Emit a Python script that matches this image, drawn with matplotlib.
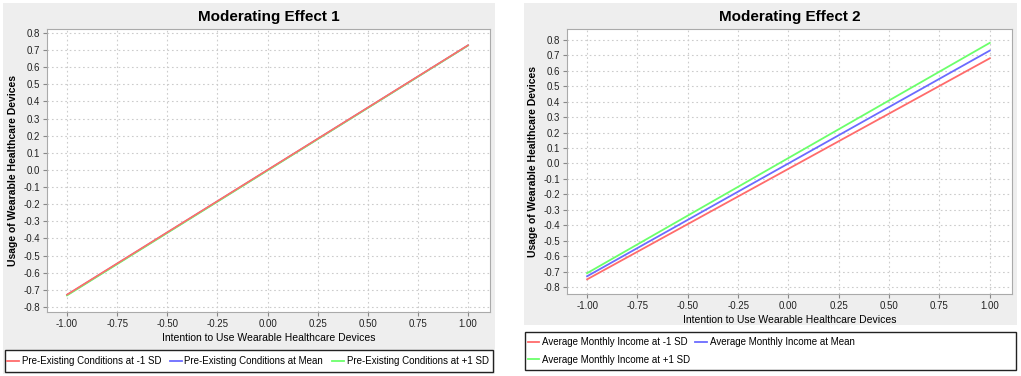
import numpy as np
import matplotlib.pyplot as plt
from matplotlib.patches import Rectangle
from matplotlib.lines import Line2D

plt.rcParams['font.family'] = ['Liberation Sans', 'DejaVu Sans']

# data: slopes read at x = -1 and x = 1
x_vals = [-1.0, 1.0]
eff1_low = [-0.728, 0.728]
eff1_mean = [-0.730, 0.727]
eff1_high = [-0.733, 0.726]
eff2_low = [-0.75, 0.68]
eff2_mean = [-0.73, 0.73]
eff2_high = [-0.71, 0.78]

labels1 = ['Pre-Existing Conditions at -1 SD', 'Pre-Existing Conditions at Mean',
           'Pre-Existing Conditions at +1 SD']
labels2 = ['Average Monthly Income at -1 SD', 'Average Monthly Income at Mean',
           'Average Monthly Income at +1 SD']

xticks = [-1.0, -0.75, -0.5, -0.25, 0.0, 0.25, 0.5, 0.75, 1.0]
yticks = [-0.8, -0.7, -0.6, -0.5, -0.4, -0.3, -0.2, -0.1, 0.0,
          0.1, 0.2, 0.3, 0.4, 0.5, 0.6, 0.7, 0.8]

RED, BLUE, GREEN = '#ff6b6b', '#6b6bff', '#6bff6b'
BG = '#eeeeee'

fig = plt.figure(figsize=(10.21, 3.76), dpi=100)

# panel backgrounds
fig.patches.append(Rectangle((0.003, 0.005), 0.482, 0.987, transform=fig.transFigure,
                             facecolor=BG, edgecolor='none', zorder=-2))
fig.patches.append(Rectangle((0.513, 0.136), 0.483, 0.856, transform=fig.transFigure,
                             facecolor=BG, edgecolor='none', zorder=-2))

ax1 = fig.add_axes([0.046, 0.170, 0.434, 0.753])
ax2 = fig.add_axes([0.5553, 0.218, 0.4358, 0.705])


def style(ax, title, ylim):
    ax.set_facecolor('white')
    ax.set_xlim(-1.1, 1.11)
    ax.set_ylim(*ylim)
    ax.set_xticks(xticks)
    ax.set_xticklabels([f'{v:.2f}' for v in xticks])
    ax.set_yticks(yticks)
    ax.set_yticklabels([f'{v:.1f}' for v in yticks])
    ax.tick_params(labelsize=7, length=3, color='#888888', pad=2, labelcolor='#222222')
    ax.grid(True, linestyle=(0, (1.5, 2.5)), color='#cccccc', linewidth=0.8)
    for s in ax.spines.values():
        s.set_color('#aaaaaa')
        s.set_linewidth(0.8)
    ax.set_xlabel('Intention to Use Wearable Healthcare Devices', fontsize=7.5, labelpad=3)
    ax.set_ylabel('Usage of Wearable Healthcare Devices', fontsize=7.5, fontweight='bold',
                  labelpad=4)
    ax.set_title(title, fontsize=11, fontweight='bold', pad=6)


style(ax1, 'Moderating Effect 1', (-0.83, 0.823))
style(ax2, 'Moderating Effect 2', (-0.845, 0.87))

ax1.plot(x_vals, eff1_mean, color=BLUE, lw=1.2)
ax1.plot(x_vals, eff1_high, color=GREEN, lw=1.2)
ax1.plot(x_vals, eff1_low, color=RED, lw=1.2)

ax2.plot(x_vals, eff2_low, color=RED, lw=1.3)
ax2.plot(x_vals, eff2_mean, color=BLUE, lw=1.3)
ax2.plot(x_vals, eff2_high, color=GREEN, lw=1.3)

# legend boxes
fig.patches.append(Rectangle((0.0049, 0.0106), 0.478, 0.0585, transform=fig.transFigure,
                             facecolor='white', edgecolor='#222222', lw=1.0, zorder=1))
fig.patches.append(Rectangle((0.514, 0.016), 0.481, 0.101, transform=fig.transFigure,
                             facecolor='white', edgecolor='#222222', lw=1.0, zorder=1))

h = [Line2D([], [], color=c, lw=1.3) for c in (RED, BLUE, GREEN)]
leg1 = fig.legend(h, labels1, loc='center left', bbox_to_anchor=(0.005, 0.040), ncol=3,
                  frameon=False, fontsize=7, handlelength=1.2, handletextpad=0.3,
                  columnspacing=0.9, borderaxespad=0, borderpad=0.2)
leg2 = fig.legend([h[0], h[2], h[1]], [labels2[0], labels2[2], labels2[1]], loc='center left',
                  bbox_to_anchor=(0.515, 0.067), ncol=2, frameon=False, fontsize=7,
                  handlelength=1.2, handletextpad=0.3, columnspacing=0.5, labelspacing=0.8,
                  borderaxespad=0, borderpad=0.2)
leg1.set_zorder(3)
leg2.set_zorder(3)

fig.savefig('out.png', dpi=100)
